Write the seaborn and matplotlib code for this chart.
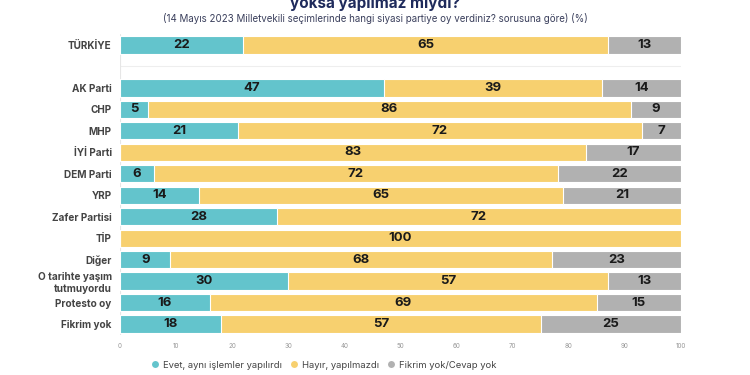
import numpy as np
import pandas as pd
import matplotlib
matplotlib.use("Agg")
import matplotlib.pyplot as plt
from matplotlib.lines import Line2D
import seaborn as sns

# veriler
kategoriler = ['TÜRKİYE', '', 'AK Parti', 'CHP', 'MHP', 'İYİ Parti', 'DEM Parti', 'YRP',
               'Zafer Partisi', 'TİP', 'Diğer', 'O tarihte yaşım\ntutmuyordu',
               'Protesto oy', 'Fikrim yok']
evet = [22, np.nan, 47, 5, 21, 0, 6, 14, 28, 0, 9, 30, 16, 18]
hayir = [65, np.nan, 39, 86, 72, 83, 72, 65, 72, 100, 68, 57, 69, 57]
fikrim_yok = [13, np.nan, 14, 9, 7, 17, 22, 21, 0, 0, 23, 13, 15, 25]
seriler = ['Evet, aynı işlemler yapılırdı', 'Hayır, yapılmazdı', 'Fikrim yok/Cevap yok']
renkler = ['#63c4cc', '#f7d06f', '#b1b1b1']

df = pd.DataFrame({'kategori': kategoriler, 'evet': evet, 'hayir': hayir, 'fikrim': fikrim_yok})
df['c1'] = df['evet']
df['c2'] = df['evet'] + df['hayir']
df['c3'] = df['c2'] + df['fikrim']

sns.set_style('white')
plt.rcParams['font.family'] = ['Inter', 'DejaVu Sans']

fig = plt.figure(figsize=(7.5, 3.75), dpi=100)
ax = fig.add_axes([0.16, 0.1075, 0.748, 0.801])

# ust uste binen toplamlar (once en uzun)
for kolon, renk in zip(['c3', 'c2', 'c1'], renkler[::-1]):
    sns.barplot(data=df, x=kolon, y='kategori', order=kategoriler, color=renk,
                orient='h', width=0.8, edgecolor='white', linewidth=0.8,
                saturation=1, ax=ax)

# degerler
for i, row in df.iterrows():
    if pd.isna(row['evet']):
        continue
    sol = 0
    for v in [row['evet'], row['hayir'], row['fikrim']]:
        if v > 0:
            ax.text(sol + v / 2, i, f'{int(v)}', ha='center', va='center',
                    fontsize=9.5, fontweight='bold', color='#1a1a1a')
        sol += v

ax.axhline(1, color='#eeeeee', lw=0.8, zorder=0)
ax.axvline(0, color='#e6e6e6', lw=0.8, zorder=0)
ax.set_xlim(0, 100)
ax.set_ylim(13.5, -0.5)
ax.set_xticks(range(0, 101, 10))
ax.tick_params(axis='x', labelsize=4.5, labelcolor='#999999', length=0, pad=6)
ax.tick_params(axis='y', labelsize=7.2, labelcolor='#444444', length=0, pad=6)
for lbl in ax.get_yticklabels():
    lbl.set_fontweight('bold')
ax.set_xlabel('')
ax.set_ylabel('')
sns.despine(ax=ax, left=True, bottom=True)

fig.text(0.5, 0.99, 'yoksa yapılmaz mıydı?', ha='center', va='center',
         fontsize=11, fontweight='bold', color='#1f2b5c')
fig.text(0.5, 0.952, '(14 Mayıs 2023 Milletvekili seçimlerinde hangi siyasi partiye oy verdiniz? sorusuna göre) (%)',
         ha='center', va='center', fontsize=7, color='#3a3f5c')

tutamac = [Line2D([0], [0], marker='o', color='w', markerfacecolor=r, markersize=6)
           for r in renkler]
fig.legend(tutamac, seriler, loc='center', bbox_to_anchor=(322 / 750, 1 - 365 / 375),
           ncol=3, frameon=False, fontsize=6.8, handletextpad=0.1, columnspacing=0.5,
           handlelength=1.5, labelcolor='#444444')

fig.savefig('out.png', dpi=100, facecolor='white')
